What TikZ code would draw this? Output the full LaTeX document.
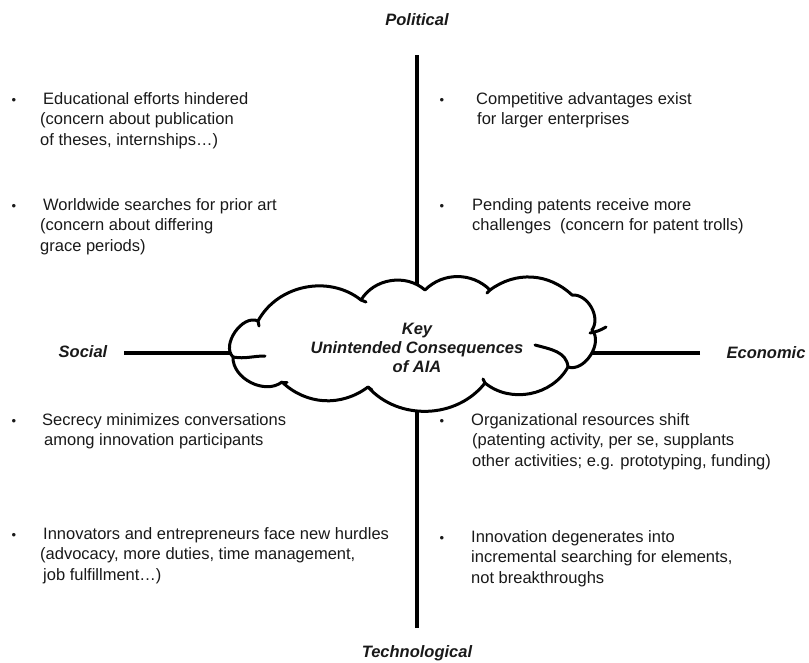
\documentclass[tikz,border=0pt]{standalone}
\usepackage{fontspec}
\setmainfont{Liberation Sans}
\definecolor{ink}{RGB}{25,25,25}
\begin{document}
\begin{tikzpicture}[x=1pt,y=-1pt,
  txt/.style={anchor=north west, inner sep=0pt, align=left, font=\fontsize{16.5}{20.7}\selectfont, text=ink},
  bul/.style={anchor=base, inner sep=0pt, font=\fontsize{13}{13}\selectfont, text=ink},
  axlabel/.style={inner sep=0pt, font=\fontsize{16.5}{20}\selectfont\bfseries\itshape, text=ink},
  axisline/.style={line width=3.2pt, draw=black},
  cloudline/.style={line width=3pt, line join=round, line cap=round, draw=black}]
\useasboundingbox (0,0) rectangle (809,662);

% axis labels
\node[axlabel] (pol) at (417,20) {Political};
\node[axlabel] (tech) at (417,653) {Technological};
\node[axlabel] (soc) at (83,352) {Social};
\node[axlabel] (eco) at (766,353) {Economic};

% axes
\coordinate (pt) at (417,55);
\coordinate (pb) at (417,628);
\coordinate (pl) at (124,353);
\coordinate (pr) at (700,353);
\coordinate (cc) at (417,353);
\draw[axisline] (pt) -- (cc);
\draw[axisline] (pb) -- (cc);
\draw[axisline] (pl) -- (cc);
\draw[axisline] (pr) -- (cc);

% cloud
\coordinate (v1) at (258,321);
\coordinate (v2) at (361,300);
\coordinate (v3) at (425,290);
\coordinate (v4) at (490,290);
\coordinate (v5) at (572,295);
\coordinate (v6) at (592,330);
\coordinate (v7) at (568,367);
\coordinate (v8) at (485,383);
\coordinate (v9) at (368,387);
\coordinate (v10) at (282,382);
\coordinate (v11) at (233,357);
\filldraw[cloudline, fill=white]
  (v1) to[bend left=50] (v2) to[bend left=50] (v3) to[bend left=45] (v4)
  to[bend left=40] (v5) to[bend left=65] (v6) to[bend left=75] (v7)
  to[bend left=50] (v8) to[bend left=50] (v9) to[bend left=40] (v10)
  to[bend left=65] (v11) to[bend left=80] (v1) -- cycle;
% inner hooks
\draw[cloudline] (v11) to[out=-10,in=180] (265,356);
\draw[cloudline] (535,345) to[out=-15,in=95] (v7);
\draw[cloudline] (606,327) to[bend left=10] (590,333);
\draw[cloudline] (v2) -- (366,302);
\draw[cloudline] (v4) -- (487,293);
\draw[cloudline] (v8) -- (483,379);
\draw[cloudline] (v9) -- (372,390);
\draw[cloudline] (v10) -- (287,382);
\draw[cloudline] (v1) -- (259,326);

\node[inner sep=0pt, align=center, font=\fontsize{16.5}{19}\selectfont\bfseries\itshape, text=ink] (key) at (417,348)
  {Key\\Unintended Consequences\\of AIA};

% top-left
\node[bul] (b1) at (14,104) {•};
\node[txt] (t1) at (40,92) {\hspace{3pt}Educational efforts hindered\\(concern about publication\\of theses, internships…)};
\node[bul] (b2) at (14,210) {•};
\node[txt] (t2) at (40,198) {\hspace{3pt}Worldwide searches for prior art\\(concern about differing\\grace periods)};
% top-right
\node[bul] (b3) at (442,104) {•};
\node[txt] (t3) at (476,92) {Competitive advantages exist\\\hspace{1pt}for larger enterprises};
\node[bul] (b4) at (442,210) {•};
\node[txt] (t4) at (472,198) {Pending patents receive more\\challenges\ \ (concern for patent trolls)};
% bottom-left
\node[bul] (b5) at (14,425) {•};
\node[txt] (t5) at (42,413) {Secrecy minimizes conversations\\\hspace{2pt}among innovation participants};
\node[bul] (b6) at (14,539) {•};
\node[txt] (t6) at (40,527) {\hspace{3pt}Innovators and entrepreneurs face new hurdles\\(advocacy, more duties, time management,\\\hspace{3pt}job fulfillment…)};
% bottom-right
\node[bul] (b7) at (442,425) {•};
\node[txt] (t7) at (471,413) {Organizational resources shift\\\hspace{1pt}(patenting activity, per se, supplants\\\hspace{1pt}other activities; e.g. prototyping, funding)};
\node[bul] (b8) at (442,542) {•};
\node[txt] (t8) at (471,530) {Innovation degenerates into\\incremental searching for elements,\\not breakthroughs};
\end{tikzpicture}
\end{document}
